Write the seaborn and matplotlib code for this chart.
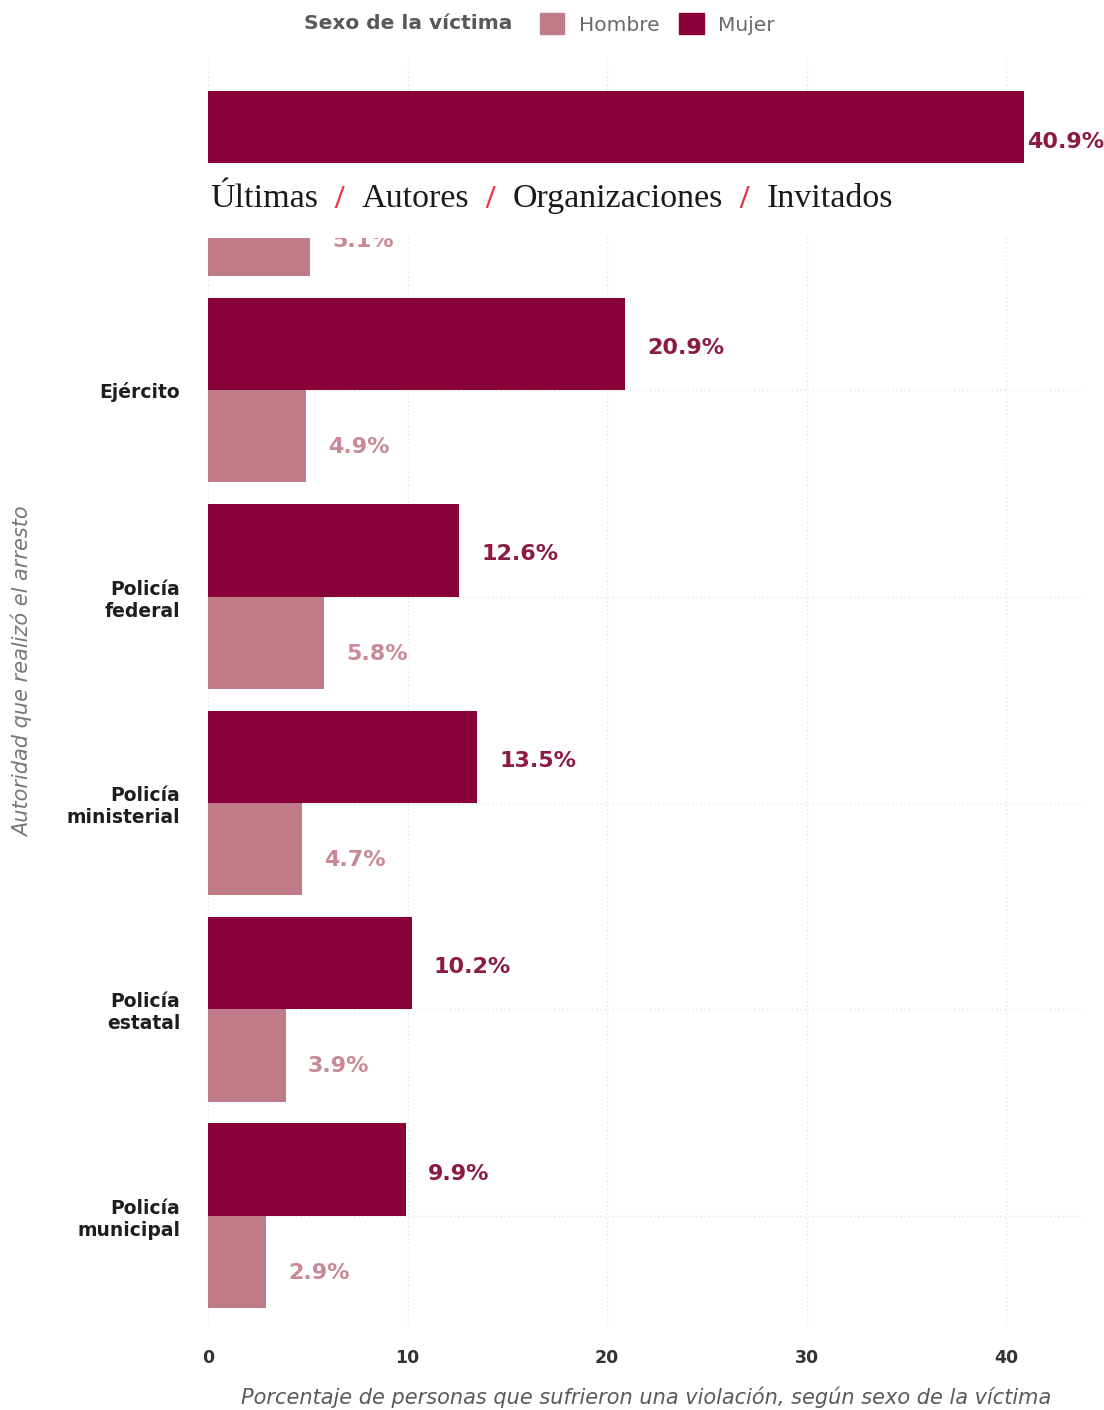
import pandas as pd
import seaborn as sns
import matplotlib.pyplot as plt
from matplotlib.patches import Patch, Rectangle

# -------------------------------------------------------------
# Datos
# -------------------------------------------------------------
autoridades = ["Marina", "Ejército", "Policía\nfederal", "Policía\nministerial",
               "Policía\nestatal", "Policía\nmunicipal"]
mujer = [40.9, 20.9, 12.6, 13.5, 10.2, 9.9]
hombre = [5.1, 4.9, 5.8, 4.7, 3.9, 2.9]
sexos = ["Mujer", "Hombre"]
xticks = [0, 10, 20, 30, 40]

nav_items = ["Últimas", "Autores", "Organizaciones", "Invitados"]

col_mujer = "#8a0038"
col_hombre = "#c07b89"
lab_mujer = "#8c1a45"
lab_hombre = "#c98996"

df = pd.DataFrame({
    "autoridad": autoridades * 2,
    "sexo": ["Mujer"] * len(mujer) + ["Hombre"] * len(hombre),
    "pct": mujer + hombre,
})

# -------------------------------------------------------------
# Figura
# -------------------------------------------------------------
sns.set_style("white")
plt.rcParams["font.family"] = ["DejaVu Sans"]

fig = plt.figure(figsize=(11.04, 14.10), dpi=100)
ax = fig.add_axes([0.1884, 0.0589, 0.7935, 0.9])

sns.barplot(data=df, x="pct", y="autoridad", hue="sexo", hue_order=sexos,
            order=autoridades, palette={"Mujer": col_mujer, "Hombre": col_hombre},
            width=0.895, saturation=1, orient="h", ax=ax, legend=False,
            linewidth=0, edgecolor="none")

ax.set_xlim(0, 43.9)
ax.set_ylim(5.54, -0.61)
ax.set_xticks(xticks)
ax.grid(True, color="#e6e6e6", linestyle=(0, (1, 2)), linewidth=1)
ax.set_axisbelow(True)
for s in ax.spines.values():
    s.set_visible(False)

ax.tick_params(axis="x", length=0, pad=16, labelsize=12.5, labelcolor="#333333")
ax.tick_params(axis="y", length=0, pad=20, labelsize=13.5, labelcolor="#1e1e1e")
for t in ax.get_xticklabels() + ax.get_yticklabels():
    t.set_fontweight("bold")
for t in ax.get_yticklabels():
    t.set_multialignment("right")

ax.set_xlabel("Porcentaje de personas que sufrieron una violación, según sexo de la víctima",
              fontsize=15, style="italic", color="#5a5a5a", labelpad=14)
ax.set_ylabel("Autoridad que realizó el arresto", fontsize=15, style="italic",
              color="#777777")
ax.yaxis.set_label_coords(-0.200, 0.516)

# etiquetas de valor
for cont, col, dy in zip(ax.containers, [lab_mujer, lab_hombre], [-3, -8]):
    for bar in cont:
        v = bar.get_width()
        dx = 2 if v > 40 else 16
        ax.annotate(f"{v:.1f}%", (v, bar.get_y() + bar.get_height() / 2),
                    xytext=(dx, dy), textcoords="offset points",
                    ha="left", va="center", fontsize=16, fontweight="bold",
                    color=col, annotation_clip=False)

# leyenda
fig.text(0.370, 0.983, "Sexo de la víctima", fontsize=14.5, fontweight="bold",
         color="#585858", ha="center", va="center")
handles = [Patch(color=col_hombre, label="Hombre"), Patch(color=col_mujer, label="Mujer")]
fig.legend(handles=handles, loc="center left", bbox_to_anchor=(0.473, 0.983), ncol=2,
           frameon=False, fontsize=14.5, labelcolor="#6a6a6a", handlelength=1.2,
           handleheight=1.2, handletextpad=0.7, columnspacing=1.0)

# barra de navegación superpuesta
fig.patches.append(Rectangle((0, 1 - 238 / 1410), 1, 75 / 1410, transform=fig.transFigure,
                             facecolor="white", edgecolor="none", zorder=10))
x = 210 / 1104
y = 1 - 199 / 1410
r = fig.canvas.get_renderer()
for i, item in enumerate(nav_items):
    t = fig.text(x, y, item, fontsize=24.5, family="Liberation Serif", color="#1a1a1a",
                 ha="left", va="center", zorder=11)
    x += t.get_window_extent(r).width / 1104
    if i < len(nav_items) - 1:
        t = fig.text(x, y, "  /  ", fontsize=24.5, family="Liberation Serif",
                     fontweight="bold", color="#e8343c", ha="left", va="center", zorder=11)
        x += t.get_window_extent(r).width / 1104

fig.savefig("out.png", dpi=100, facecolor="white")
